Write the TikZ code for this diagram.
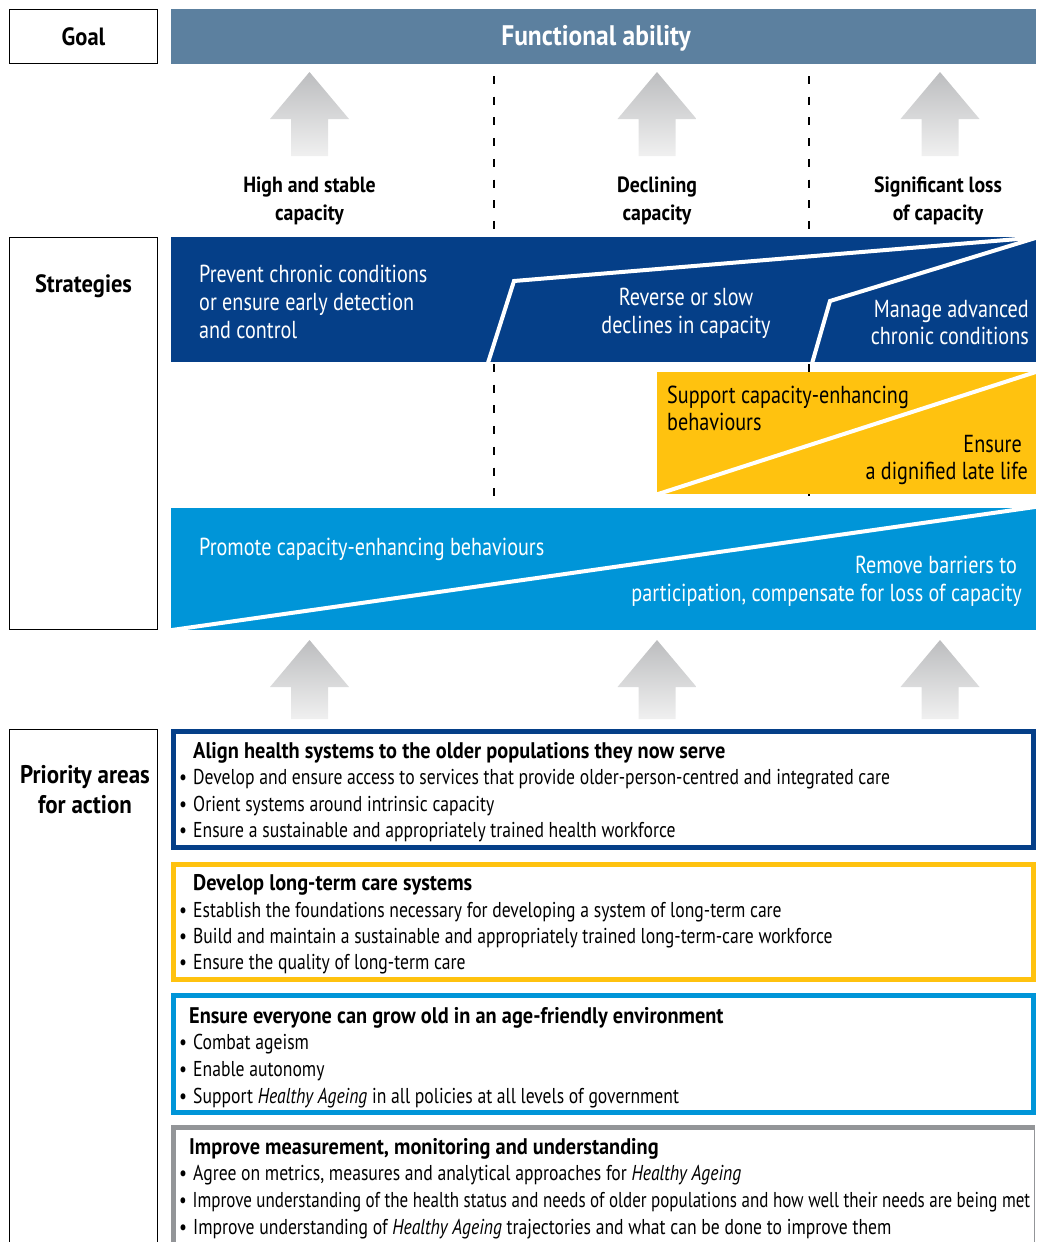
\documentclass[tikz,border=0pt]{standalone}
\usepackage{fontspec}
\setmainfont{PT Sans}[UprightFeatures={FakeStretch=0.82},ItalicFeatures={FakeStretch=0.82},BoldFeatures={FakeStretch=0.90},BoldItalicFeatures={FakeStretch=0.90}]
\definecolor{steel}{HTML}{5C809F}
\definecolor{dblue}{HTML}{053F88}
\definecolor{wyellow}{HTML}{FFC20F}
\definecolor{lblue}{HTML}{0095D8}
\definecolor{pgrey}{HTML}{939598}
\definecolor{arrtop}{HTML}{BCBDBF}
\definecolor{arrbot}{HTML}{F0F0F0}
\newcommand\grayarrow[3]{%
  \shade[top color=arrtop,bottom color=arrbot] (#1,#2) -- ++(39.5,47) -- ++(-21,0) -- ++(0,#3) -- ++(-37,0) -- ++(0,-#3) -- ++(-21,0) -- cycle;}
\newcommand\fs[2]{\fontsize{#1}{#2}\selectfont}
\begin{document}
\begin{tikzpicture}[x=1pt,y=-1pt,
  lblbox/.style={draw=black,line width=1.8pt},
  dashline/.style={line width=1.4pt,dash pattern=on 8pt off 12.7pt},
  whiteline/.style={white,line width=4pt,line join=miter},
  headtxt/.style={inner sep=0pt,font=\bfseries\fs{25}{30}},
  coltxt/.style={inner sep=0pt,font=\bfseries\fs{22}{26}},
  strtxt/.style={inner sep=0pt,font=\fs{24.6}{28}},
  ttltxt/.style={inner sep=0pt,anchor=base west,font=\bfseries\fs{22.6}{27}},
  bultxt/.style={inner sep=0pt,anchor=base west,font=\fs{21.5}{27}},
  prbox/.style={line width=5pt}]
\useasboundingbox (0,0) rectangle (1036,1242);
\clip (0,0) rectangle (1036,1242);

% ---- Goal row
\draw[lblbox] (9.5,9.5) rectangle (157.5,63.5);
\node[headtxt,anchor=base] (goal) at (83.5,45) {Goal};
\fill[steel] (171,9) rectangle (1036,64);
\node[headtxt,anchor=base,text=white,font=\bfseries\fs{28.3}{30}] (func) at (596,45) {Functional ability};

% ---- dashed dividers
\draw[dashline] (494,76) -- (494,232);
\draw[dashline] (809,76) -- (809,232);
\draw[dashline] (494,364) -- (494,505);
\draw[dashline] (809,364) -- (809,505);

% ---- top arrows
\grayarrow{309.5}{72}{37}
\grayarrow{657}{72}{37}
\grayarrow{940}{72}{37}

\node[coltxt,anchor=base] (c1) at (309.5,192) {High and stable};
\node[coltxt,anchor=base] (c1b) at (309.5,220) {capacity};
\node[coltxt,anchor=base] (c2) at (657,192) {Declining};
\node[coltxt,anchor=base] (c2b) at (657,220) {capacity};
\node[coltxt,anchor=base] (c3) at (938,192) {Significant loss};
\node[coltxt,anchor=base] (c3b) at (938,220) {of capacity};

% ---- Strategies
\draw[lblbox] (9.5,237.5) rectangle (157.5,629.5);
\node[headtxt,anchor=base] (strat) at (83.5,292) {Strategies};

% dark blue band
\fill[dblue] (171,237) rectangle (1036,362);
\begin{scope}
  \clip (171,237) rectangle (1036,362);
  \draw[whiteline] (487,366) -- (514,281) -- (1042,237);
  \draw[whiteline] (811,367) -- (830,301) -- (1042,236);
\end{scope}
\node[strtxt,anchor=base west,text=white] (s1a) at (199,282) {Prevent chronic conditions};
\node[strtxt,anchor=base west,text=white] (s1b) at (199,310) {or ensure early detection};
\node[strtxt,anchor=base west,text=white] (s1c) at (199,338) {and control};
\node[strtxt,anchor=base,text=white] (s2a) at (686,305) {Reverse or slow};
\node[strtxt,anchor=base,text=white] (s2b) at (686,333) {declines in capacity};
\node[strtxt,anchor=base east,text=white] (s3a) at (1029,317) {Manage advanced};
\node[strtxt,anchor=base east,text=white] (s3b) at (1029,344) {chronic conditions};

% yellow band
\fill[wyellow] (657,372) rectangle (1036,494);
\begin{scope}
  \clip (657,372) rectangle (1036,494);
  \draw[whiteline] (652,496) -- (1042,370);
\end{scope}
\node[strtxt,anchor=base west] (y1a) at (667,403) {Support capacity-enhancing};
\node[strtxt,anchor=base west] (y1b) at (667,430) {behaviours};
\node[strtxt,anchor=base east] (y2a) at (1022,452) {Ensure};
\node[strtxt,anchor=base east] (y2b) at (1028,479) {a dignified late life};

% light blue band
\fill[lblue] (171,508) rectangle (1036,630);
\begin{scope}
  \clip (171,508) rectangle (1036,630);
  \draw[whiteline] (165,631) -- (1042,506);
\end{scope}
\node[strtxt,anchor=base west,text=white] (b1) at (199,555) {Promote capacity-enhancing behaviours};
\node[strtxt,anchor=base east,text=white] (b2a) at (1017,573) {Remove barriers to};
\node[strtxt,anchor=base east,text=white] (b2b) at (1022,601) {participation, compensate for loss of capacity};

% ---- bottom arrows
\grayarrow{309.5}{640}{32}
\grayarrow{657}{640}{32}
\grayarrow{940}{640}{32}

% ---- Priority areas
\draw[lblbox] (9.5,729.5) rectangle (157.5,1260);
\node[headtxt,anchor=base,font=\bfseries\fs{25.5}{30}] (prio1) at (85,783) {Priority areas};
\node[headtxt,anchor=base,font=\bfseries\fs{25.5}{30}] (prio2) at (85,813) {for action};

\draw[prbox,dblue] (173.5,731.5) rectangle (1033.5,847.5);
\node[ttltxt] (p1t) at (193,758) {Align health systems to the older populations they now serve};
\node[bultxt] (p1a) at (179,784) {\makebox[14pt][l]{•}Develop and ensure access to services that provide older-person-centred and integrated care};
\node[bultxt] (p1b) at (179,811) {\makebox[14pt][l]{•}Orient systems around intrinsic capacity};
\node[bultxt] (p1c) at (179,837) {\makebox[14pt][l]{•}Ensure a sustainable and appropriately trained health workforce};

\draw[prbox,wyellow] (173.5,864.5) rectangle (1033.5,979.5);
\node[ttltxt] (p2t) at (193,890) {Develop long-term care systems};
\node[bultxt] (p2a) at (179,917) {\makebox[14pt][l]{•}Establish the foundations necessary for developing a system of long-term care};
\node[bultxt] (p2b) at (179,943) {\makebox[14pt][l]{•}Build and maintain a sustainable and appropriately trained long-term-care workforce};
\node[bultxt] (p2c) at (179,969) {\makebox[14pt][l]{•}Ensure the quality of long-term care};

\draw[prbox,lblue] (173.5,995.5) rectangle (1033.5,1112.5);
\node[ttltxt] (p3t) at (189,1023) {Ensure everyone can grow old in an age-friendly environment};
\node[bultxt] (p3a) at (179,1049) {\makebox[14pt][l]{•}Combat ageism};
\node[bultxt] (p3b) at (179,1076) {\makebox[14pt][l]{•}Enable autonomy};
\node[bultxt] (p3c) at (179,1103) {\makebox[14pt][l]{•}Support \textit{Healthy Ageing} in all policies at all levels of government};

\draw[prbox,pgrey] (1034.5,1127.5) -- (173.5,1127.5) -- (173.5,1270);
\draw[pgrey,line width=1.5pt] (1034.5,1127.5) -- (1034.5,1270);
\node[ttltxt] (p4t) at (189,1154) {Improve measurement, monitoring and understanding};
\node[bultxt] (p4a) at (179,1180) {\makebox[14pt][l]{•}Agree on metrics, measures and analytical approaches for \textit{Healthy Ageing}};
\node[bultxt] (p4b) at (179,1207) {\resizebox{851pt}{\height}{\makebox[14pt][l]{•}Improve understanding of the health status and needs of older populations and how well their needs are being met}};
\node[bultxt] (p4c) at (179,1234) {\makebox[14pt][l]{•}Improve understanding of \textit{Healthy Ageing} trajectories and what can be done to improve them};
\end{tikzpicture}
\end{document}
